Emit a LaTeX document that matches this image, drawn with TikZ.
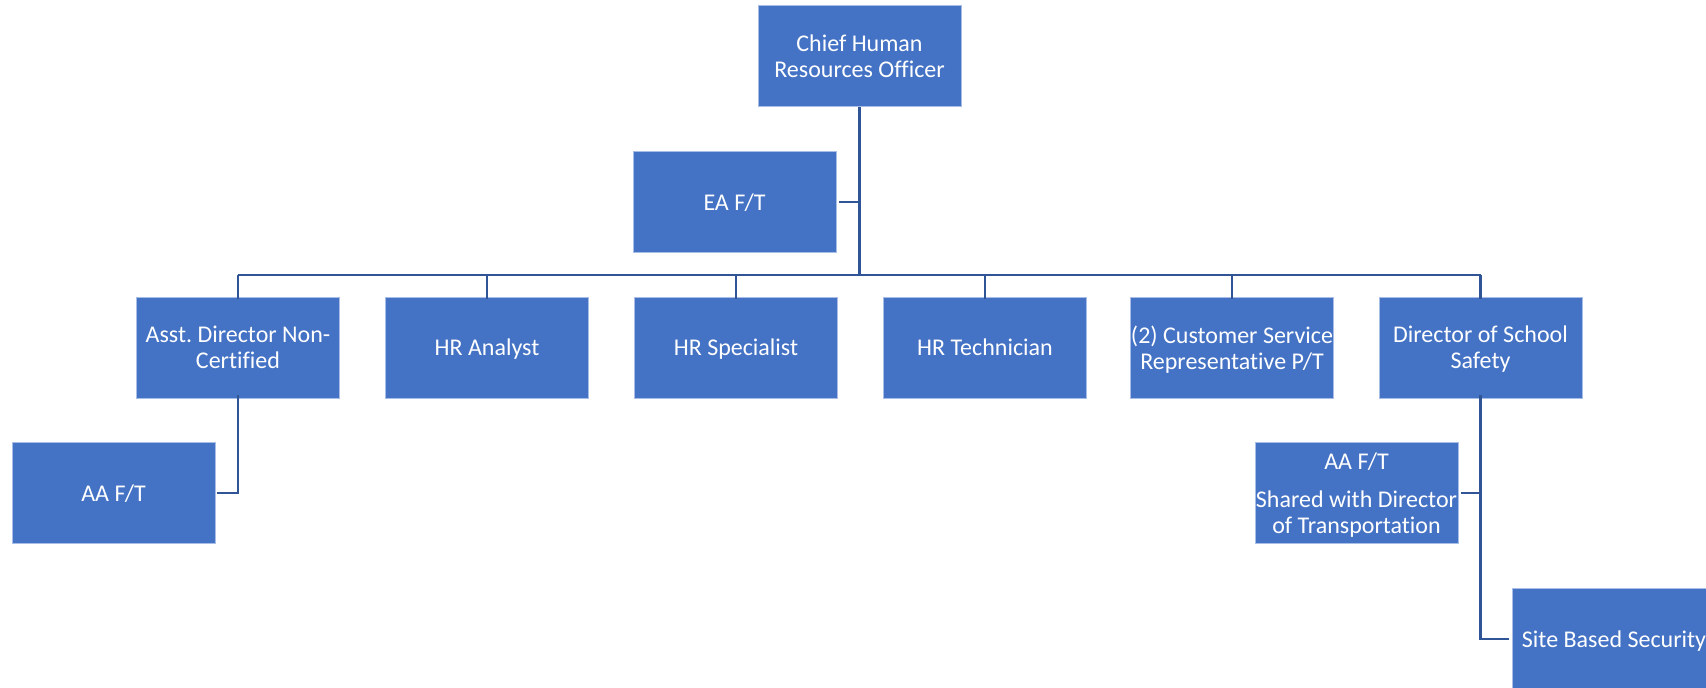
\documentclass[tikz,border=0pt]{standalone}
\usepackage{fontspec}
\setmainfont{Carlito}[Ligatures=NoCommon]
\usetikzlibrary{calc}
\definecolor{boxblue}{HTML}{4472C4}
\definecolor{boxedge}{HTML}{A9BEE6}
\definecolor{linkblue}{HTML}{2F5597}
\frenchspacing
\begin{document}
\begin{tikzpicture}[x=1pt,y=-1pt,
  orgbox/.style={rectangle,fill=boxblue,draw=boxedge,line width=0.8pt,
    minimum width=203pt,minimum height=101pt,inner sep=0pt,text=white,
    text depth=0pt,align=center,font=\fontsize{24}{26}\selectfont},
  conn/.style={draw=linkblue,line width=2.2pt}]
\useasboundingbox (0,0) rectangle (1706,688);
\clip (0,0) rectangle (1706,688);

% top level and executive assistant
\node[orgbox] (chief) at (859.5,56) {Chief Human\\Resources Officer};
\node[orgbox] (ea) at (734.5,202) {EA F/T};

% second row
\node[orgbox] (ad)  at (238,347.5)  {Asst. Director Non-\\Certified};
\node[orgbox] (hra) at (487,347.5)  {HR Analyst};
\node[orgbox] (hrs) at (736,347.5)  {HR Specialist};
\node[orgbox] (hrt) at (985,347.5)  {HR Technician};
\node[orgbox] (csr) at (1232,347.5) {(2) Customer Service\\Representative P/T};
\node[orgbox] (dss) at (1480.5,347.5) {Director of School\\Safety};

% third level
\node[orgbox] (aa1) at (113.5,493) {AA F/T};
\node[orgbox] (aa2) at (1356.5,493) {AA F/T\\[12pt]Shared with Director\\of Transportation};
\node[orgbox] (sbs) at (1614,639) {Site Based Security};

% horizontal bus under the chief
\coordinate (busL) at (238,275);
\coordinate (busR) at (1481,275);

\draw[conn] (chief.south) -- (chief.south |- busL);
\draw[conn] (busL) -- (busR);
\draw[conn] ([xshift=3pt]ea.east) -- (ea.east -| chief.south);
\foreach \n in {ad,hra,hrs,hrt,csr,dss}
  \draw[conn] (\n.north |- busL) -- ([yshift=-2pt]\n.north);
\draw[conn] ([yshift=3pt]ad.south) |- ([xshift=2pt]aa1.east);
\draw[conn] ([yshift=3pt]dss.south) |- ([xshift=3pt]aa2.east);
\draw[conn] ([yshift=3pt]dss.south) |- ([xshift=-3pt]sbs.west);
\end{tikzpicture}
\end{document}
